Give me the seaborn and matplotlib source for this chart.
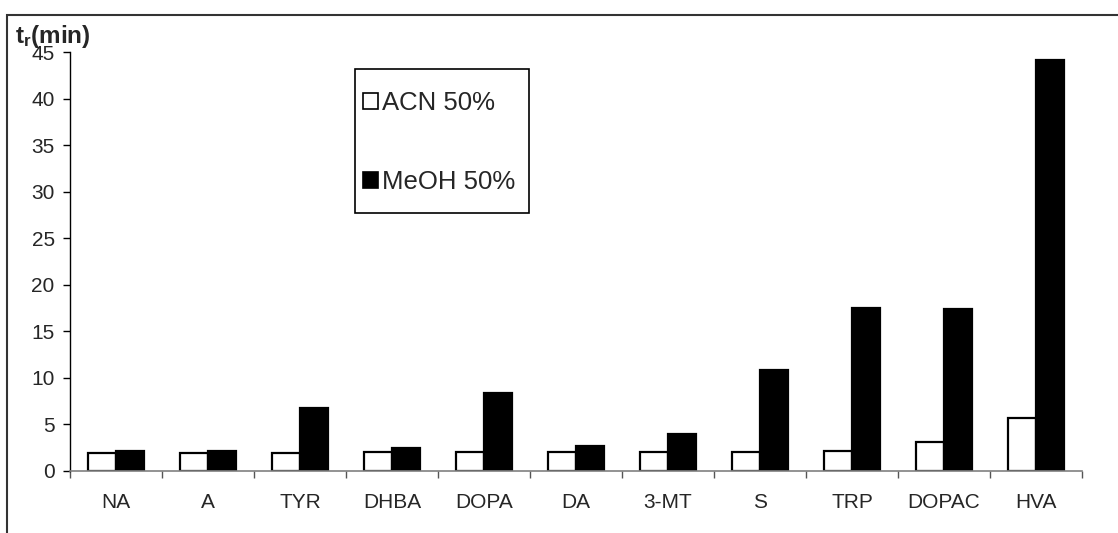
import pandas as pd
import matplotlib.pyplot as plt
import seaborn as sns
from matplotlib.patches import Rectangle
from matplotlib.ticker import FixedLocator

# retention times (min)
compounds = ['NA', 'A', 'TYR', 'DHBA', 'DOPA', 'DA', '3-MT', 'S', 'TRP', 'DOPAC', 'HVA']
acn_50 = [1.95, 1.95, 1.95, 2.0, 2.0, 2.0, 2.0, 2.0, 2.15, 3.15, 5.65]
meoh_50 = [2.15, 2.1, 6.75, 2.5, 8.35, 2.65, 4.0, 10.85, 17.5, 17.45, 44.1]
series_names = ['ACN 50%', 'MeOH 50%']
y_ticks = list(range(0, 50, 5))

df = pd.DataFrame({
    'compound': compounds * 2,
    'tr': acn_50 + meoh_50,
    'solvent': [series_names[0]] * len(compounds) + [series_names[1]] * len(compounds),
})

sns.set_style('white')
plt.rcParams['font.family'] = ['Liberation Sans', 'DejaVu Sans']
plt.rcParams['mathtext.fontset'] = 'custom'
plt.rcParams['mathtext.rm'] = 'Liberation Sans'
plt.rcParams['mathtext.bf'] = 'Liberation Sans:bold'

fig = plt.figure(figsize=(11.18, 5.33), dpi=100)
ax = fig.add_axes([70 / 1118, 62 / 533, 1012 / 1118, 419 / 533])

sns.barplot(
    data=df, x='compound', y='tr', hue='solvent', order=compounds,
    hue_order=series_names, palette={'ACN 50%': 'white', 'MeOH 50%': 'black'},
    edgecolor='black', linewidth=1.6, width=0.6, gap=0, ax=ax,
)

ax.set_xlim(-0.5, len(compounds) - 0.5)
ax.set_ylim(0, 45)
ax.set_yticks(y_ticks)
ax.set_xlabel('')
ax.set_ylabel('')

# category labels centred, tick marks on the category borders
ax.xaxis.set_minor_locator(FixedLocator([i - 0.5 for i in range(len(compounds) + 1)]))
ax.tick_params(axis='x', which='major', length=0, pad=16, labelsize=15)
ax.tick_params(axis='x', which='minor', length=5, width=1, color='#555555', direction='out', bottom=True)
ax.tick_params(axis='y', length=5, width=1, color='black', direction='out', pad=6, labelsize=15, left=True)

for s in ['top', 'right']:
    ax.spines[s].set_visible(False)
ax.spines['left'].set_color('black')
ax.spines['left'].set_linewidth(1)
ax.spines['bottom'].set_color('#808080')
ax.spines['bottom'].set_linewidth(1.2)

# legend entries without frame; the box is drawn separately (taller than wide padding)
leg = ax.legend(
    loc='center left', bbox_to_anchor=(0.2895, 0.784), fontsize=18.5,
    frameon=False, handlelength=0.6, handleheight=0.6, handletextpad=0.15,
    labelspacing=2.14, borderpad=0, borderaxespad=0,
)
for h in leg.legend_handles:
    h.set_linewidth(1.2)
ax.add_patch(Rectangle((0.2816, 0.6158), 0.172, 0.3437, transform=ax.transAxes,
                       fill=False, edgecolor='black', linewidth=1.2, zorder=5))

fig.text(15 / 1118, 1 - 43 / 533, r'$\mathbf{t_r(min)}$', fontsize=17.5, va='baseline', ha='left')

# outer frame of the original figure (runs off the right and bottom edges)
fig.patches.append(Rectangle((7 / 1118, -0.1), 1.2, 1.1 - 15 / 533,
                             transform=fig.transFigure, fill=False,
                             edgecolor='#333333', linewidth=1.5))

fig.savefig('out.png', dpi=100)
